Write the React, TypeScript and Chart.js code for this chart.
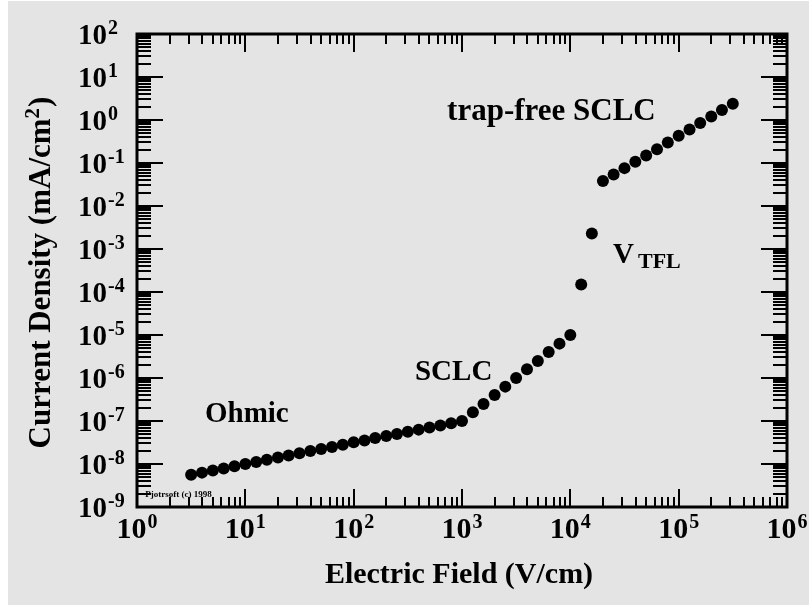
import React, { useEffect, useRef } from "react";
import { Chart, registerables } from "chart.js";

Chart.register(...registerables);

// ---- Data (Electric field in V/cm, current density in mA/cm^2) ----
const ohmicField = [3.16, 3.98, 5.01, 6.31, 7.94, 10, 12.6, 15.8, 20.0, 25.1, 31.6, 39.8, 50.1, 63.1, 79.4, 100, 126, 158, 200, 251, 316, 398, 501, 631, 794, 1000];
const ohmicCurrent = [5.6e-9, 6.3e-9, 7.1e-9, 7.9e-9, 8.9e-9, 1.0e-8, 1.12e-8, 1.26e-8, 1.41e-8, 1.58e-8, 1.78e-8, 2.0e-8, 2.24e-8, 2.5e-8, 2.8e-8, 3.2e-8, 3.5e-8, 4.0e-8, 4.5e-8, 5.0e-8, 5.6e-8, 6.3e-8, 7.1e-8, 7.9e-8, 8.9e-8, 1.0e-7];

const sclcField = [1260, 1580, 2000, 2510, 3160, 3980, 5010, 6310, 7940, 10000];
const sclcCurrent = [1.6e-7, 2.5e-7, 4.0e-7, 6.3e-7, 1.0e-6, 1.6e-6, 2.5e-6, 4.0e-6, 6.3e-6, 1.0e-5];

const tflField = [12600, 15800];
const tflCurrent = [1.5e-4, 2.3e-3];

const trapFreeField = [20000, 25100, 31600, 39800, 50100, 63100, 79400, 100000, 126000, 158000, 200000, 251000, 316000];
const trapFreeCurrent = [0.038, 0.054, 0.076, 0.107, 0.15, 0.21, 0.30, 0.43, 0.60, 0.85, 1.2, 1.7, 2.4];

// ---- Axis tick decades (exponents of 10) ----
const xDecades = [0, 1, 2, 3, 4, 5, 6];
const yDecades = [2, 1, 0, -1, -2, -3, -4, -5, -6, -7, -8, -9];

const xTitle = "Electric Field (V/cm)";
const yTitleMain = "Current Density (mA/cm";
const yTitleSup = "2";
const yTitleEnd = ")";

// ---- Annotations anchored in data coordinates (left, baseline) ----
const annotations = [
  { text: "trap-free SCLC", x: 728, y: 1.0, size: 31 },
  { text: "SCLC", x: 368, y: 9.0e-7, size: 29 },
  { text: "Ohmic", x: 4.24, y: 9.5e-8, size: 29 },
];
const vtfl = { main: "V", sub: "TFL", x: 24800, y: 4.7e-4 };
const credit = { text: "Pjotrsoft (c) 1998", x: 1.19, y: 1.7e-9 };

const SERIF = '"Liberation Serif", "Times New Roman", serif';
const F_BIG = `bold 29px ${SERIF}`;
const F_EXP = `bold 20px ${SERIF}`;

function toPoints(xs: number[], ys: number[]) {
  return xs.map((v, i) => ({ x: v, y: ys[i] }));
}

const framePlugin = {
  id: "framePlugin",
  beforeDraw(chart: any) {
    const { ctx } = chart;
    ctx.save();
    ctx.fillStyle = "#e4e4e4";
    ctx.fillRect(8, 1, chart.width - 8, chart.height - 2);
    ctx.restore();
  },
  afterDraw(chart: any) {
    const { ctx, chartArea: a } = chart;
    const xs = chart.scales.x;
    const ys = chart.scales.y;
    ctx.save();
    ctx.strokeStyle = "#000";
    ctx.fillStyle = "#000";

    // ticks
    ctx.lineWidth = 2;
    ctx.beginPath();
    for (let d = xDecades[0]; d <= xDecades[xDecades.length - 1]; d++) {
      for (let k = 1; k <= 9; k++) {
        if (d === xDecades[xDecades.length - 1] && k > 1) break;
        const px = Math.round(xs.getPixelForValue(k * Math.pow(10, d)));
        const len = k === 1 ? 18 : 10;
        ctx.moveTo(px, a.bottom);
        ctx.lineTo(px, a.bottom - len);
        ctx.moveTo(px, a.top);
        ctx.lineTo(px, a.top + len);
      }
    }
    const yMin = yDecades[yDecades.length - 1];
    const yMax = yDecades[0];
    for (let d = yMin; d <= yMax; d++) {
      for (let k = 1; k <= 9; k++) {
        if (d === yMax && k > 1) break;
        const py = Math.round(ys.getPixelForValue(k * Math.pow(10, d)));
        const len = k === 1 ? 26 : 14;
        ctx.moveTo(a.left, py);
        ctx.lineTo(a.left + len, py);
        ctx.moveTo(a.right, py);
        ctx.lineTo(a.right - len, py);
      }
    }
    ctx.stroke();

    // frame
    ctx.lineWidth = 3;
    ctx.strokeRect(a.left, a.top, a.right - a.left, a.bottom - a.top);

    // x tick labels
    ctx.textBaseline = "alphabetic";
    ctx.textAlign = "left";
    xDecades.forEach((d) => {
      const px = xs.getPixelForValue(Math.pow(10, d));
      const e = String(d);
      ctx.font = `bold 30px ${SERIF}`;
      const wb = ctx.measureText("10").width;
      ctx.font = F_EXP;
      const we = ctx.measureText(e).width;
      const start = px - (wb + 1 + we) / 2;
      ctx.font = `bold 30px ${SERIF}`;
      ctx.fillText("10", start, a.bottom + 31);
      ctx.font = F_EXP;
      ctx.fillText(e, start + wb + 1, a.bottom + 21);
    });

    // y tick labels
    yDecades.forEach((d) => {
      const py = ys.getPixelForValue(Math.pow(10, d));
      const e = d < 0 ? "-" + String(-d) : String(d);
      const left = a.left - 59;
      ctx.font = F_BIG;
      const wb = ctx.measureText("10").width;
      ctx.fillText("10", left, py + 10);
      ctx.font = F_EXP;
      ctx.fillText(e, left + wb + 1, py);
    });

    // x title
    ctx.font = `bold 30px ${SERIF}`;
    ctx.textAlign = "center";
    ctx.fillText(xTitle, (a.left + a.right) / 2 - 3, a.bottom + 76);

    // y title (rotated)
    ctx.save();
    ctx.translate(50, (a.top + a.bottom) / 2 + 2);
    ctx.rotate(-Math.PI / 2);
    ctx.textAlign = "left";
    const fT = `bold 31px ${SERIF}`;
    const fS = `bold 21px ${SERIF}`;
    ctx.font = fT;
    const w1 = ctx.measureText(yTitleMain).width;
    const w3 = ctx.measureText(yTitleEnd).width;
    ctx.font = fS;
    const w2 = ctx.measureText(yTitleSup).width;
    const total = w1 + w2 + 1 + w3;
    let cx = -total / 2;
    ctx.font = fT;
    ctx.fillText(yTitleMain, cx, 0);
    cx += w1;
    ctx.font = fS;
    ctx.fillText(yTitleSup, cx, -11);
    cx += w2 + 1;
    ctx.font = fT;
    ctx.fillText(yTitleEnd, cx, 0);
    ctx.restore();

    // annotations
    ctx.textAlign = "left";
    annotations.forEach((an) => {
      ctx.font = `bold ${an.size}px ${SERIF}`;
      ctx.fillText(an.text, xs.getPixelForValue(an.x), ys.getPixelForValue(an.y));
    });
    const vx = xs.getPixelForValue(vtfl.x);
    const vy = ys.getPixelForValue(vtfl.y);
    ctx.font = F_BIG;
    const vw = ctx.measureText(vtfl.main).width;
    ctx.fillText(vtfl.main, vx, vy);
    ctx.font = `bold 22px ${SERIF}`;
    ctx.fillText(vtfl.sub, vx + vw + 4, vy + 5);

    ctx.font = `bold 9px ${SERIF}`;
    ctx.fillText(credit.text, xs.getPixelForValue(credit.x), ys.getPixelForValue(credit.y));

    ctx.restore();
  },
};

export default function App() {
  const ref = useRef<HTMLCanvasElement | null>(null);

  useEffect(() => {
    if (!ref.current) return;
    const style = {
      showLine: false,
      pointRadius: 6,
      pointHoverRadius: 6,
      pointBackgroundColor: "#000",
      pointBorderColor: "#000",
      pointBorderWidth: 0,
      backgroundColor: "#000",
      borderColor: "#000",
    };
    const chart = new Chart(ref.current, {
      type: "scatter",
      data: {
        datasets: [
          { label: "Ohmic", data: toPoints(ohmicField, ohmicCurrent), ...style },
          { label: "SCLC", data: toPoints(sclcField, sclcCurrent), ...style },
          { label: "TFL", data: toPoints(tflField, tflCurrent), ...style },
          { label: "trap-free SCLC", data: toPoints(trapFreeField, trapFreeCurrent), ...style },
        ],
      },
      options: {
        responsive: false,
        animation: false,
        layout: { padding: { left: 137, right: 22, top: 34, bottom: 99 } },
        plugins: { legend: { display: false }, tooltip: { enabled: false } },
        scales: {
          x: { type: "logarithmic", min: 1, max: 1e6, display: false },
          y: { type: "logarithmic", min: 1e-9, max: 100, display: false },
        },
      },
      plugins: [framePlugin],
    } as any);
    return () => chart.destroy();
  }, []);

  return (
    <div style={{ position: "absolute", left: 0, top: 0, width: 809, height: 606, background: "#fff" }}>
      <canvas ref={ref} width={809} height={606} style={{ display: "block", width: 809, height: 606 }} />
    </div>
  );
}
